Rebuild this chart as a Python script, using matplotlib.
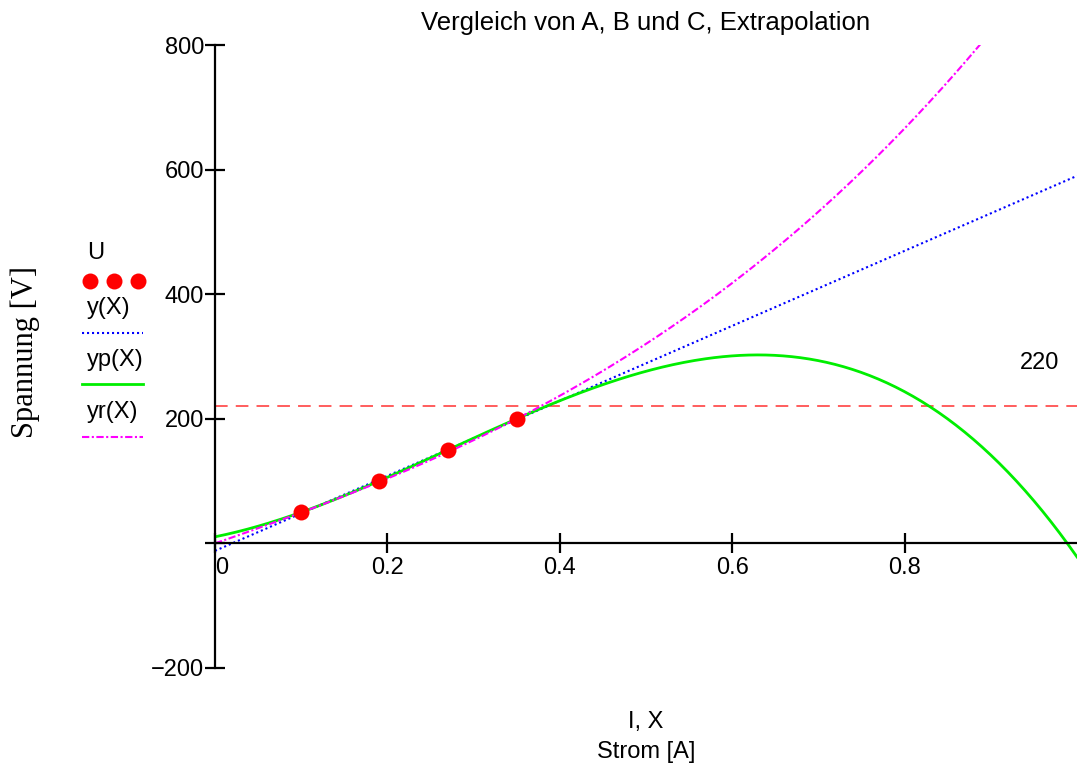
import numpy as np
import matplotlib
matplotlib.use("Agg")
import matplotlib.pyplot as plt
from matplotlib.lines import Line2D

plt.rcParams["font.family"] = ["Liberation Sans", "DejaVu Sans"]

# measured points
I_DATA = [0.1, 0.19, 0.27, 0.35]
U_DATA = [50, 100, 150, 200]

# yr(X) polynomial, coefficients (highest power first)
YR_COEF = [399.0, 121.5, 480.0, 0.0]

U_LIMIT = 220

X_TICKS = [0, 0.2, 0.4, 0.6, 0.8]
X_TICK_LABELS = ["0", "0.2", "0.4", "0.6", "0.8"]
Y_TICKS = [-200, 0, 200, 400, 600, 800]
Y_TICK_LABELS = ["\u2212200", "", "200", "400", "600", "800"]

LEGEND_LABELS = ["U", "y(X)", "yp(X)", "yr(X)"]

TITLE = "Vergleich von A, B und C, Extrapolation"


def main():
    fig = plt.figure(figsize=(10.77, 7.69), dpi=100)
    W, H = 1077, 769
    ax = fig.add_axes([215 / W, 1 - 668 / H, (1077 - 215) / W, (668 - 45) / H])

    X = np.linspace(0, 1.0, 400)
    lin = np.polyfit(I_DATA, U_DATA, 1)
    cub = np.polyfit(I_DATA, U_DATA, 3)
    y_lin = np.polyval(lin, X)
    y_cub = np.polyval(cub, X)
    y_r = np.polyval(YR_COEF, X)

    ax.axhline(U_LIMIT, color="#ff5050", lw=1.3, ls=(0, (7, 4.5)), zorder=1)
    ax.plot(X, y_lin, color="blue", lw=1.5, ls=(0, (1, 1.4)), zorder=2)
    ax.plot(X, y_cub, color="#00ee00", lw=2.0, zorder=2)
    ax.plot(X, y_r, color="magenta", lw=1.5, ls=(0, (3.5, 1.2, 1, 1.2)), zorder=2)
    ax.plot(I_DATA, U_DATA, "o", color="red", ms=11.5, mec="none", zorder=3)

    ax.text(0.956, 290, str(U_LIMIT), fontsize=17, ha="center", va="center")

    ax.set_xlim(0, 1.0)
    ax.set_ylim(-200, 800)

    for s in ["top", "right"]:
        ax.spines[s].set_visible(False)
    ax.spines["left"].set_position(("data", 0))
    ax.spines["bottom"].set_position(("data", 0))
    ax.spines["left"].set_linewidth(1.6)
    ax.spines["bottom"].set_linewidth(1.6)

    ax.set_xticks(X_TICKS)
    ax.set_xticklabels(X_TICK_LABELS)
    ax.set_yticks(Y_TICKS)
    ax.set_yticklabels(Y_TICK_LABELS)
    ax.tick_params(direction="inout", length=14, width=1.6, labelsize=17)
    ax.tick_params(axis="y", pad=1)
    ax.tick_params(axis="x", pad=3)
    xl = ax.get_xticklabels()[0]
    xl.set_horizontalalignment("left")
    xl.set_x(0.006)

    ax.set_title(TITLE, fontsize=18.5, pad=11)

    fig.text(25 / W, 1 - 352 / H, "Spannung [V]", rotation=90, fontsize=22,
             family=["Liberation Serif", "DejaVu Serif"], ha="center", va="center")
    fig.text(646 / W, 1 - 722 / H, "I, X", fontsize=17, ha="center", va="center")
    fig.text(646 / W, 1 - 752 / H, "Strom [A]", fontsize=17, ha="center", va="center")

    # legend on the left, Mathcad style
    fig.text(87 / W, 1 - 253 / H, LEGEND_LABELS[0], fontsize=17, va="center")
    fig.add_artist(Line2D([90 / W, 114 / W, 138 / W], [1 - 281 / H] * 3,
                          transform=fig.transFigure, ls="none", marker="o",
                          ms=11.5, color="red", mec="none"))
    rows = [
        (LEGEND_LABELS[1], 308, 333, dict(color="blue", lw=1.5, ls=(0, (1, 1.4)))),
        (LEGEND_LABELS[2], 360, 384, dict(color="#00ee00", lw=2.0)),
        (LEGEND_LABELS[3], 412, 437, dict(color="magenta", lw=1.5, ls=(0, (3.5, 1.2, 1, 1.2)))),
    ]
    for label, ty, ly, style in rows:
        fig.text(87 / W, 1 - ty / H, label, fontsize=17, va="center")
        fig.add_artist(Line2D([82 / W, 143 / W], [1 - ly / H] * 2,
                              transform=fig.transFigure, **style))

    fig.savefig("out.png", dpi=100)
    plt.close(fig)


if __name__ == "__main__":
    main()
